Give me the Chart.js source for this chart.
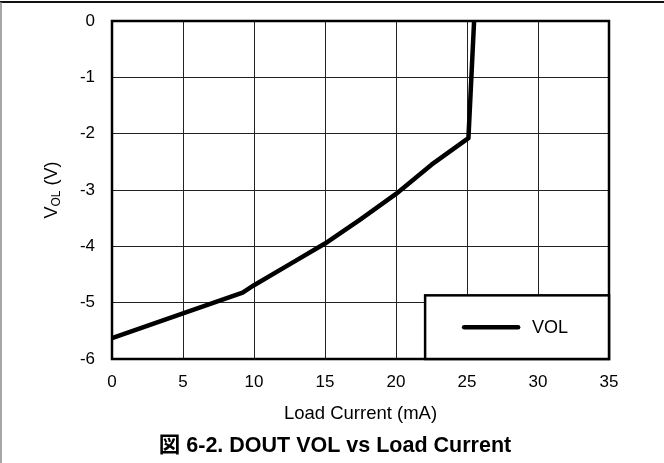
<!DOCTYPE html>
<html>
<head>
<meta charset="utf-8">
<script src="https://cdn.jsdelivr.net/npm/chart.js@4/dist/chart.umd.min.js"></script>
<style>
  html, body { margin: 0; padding: 0; background: #fff; }
  #wrap { position: relative; width: 664px; height: 463px; }
</style>
</head>
<body>
<div id="wrap"><canvas id="voltChart" width="664" height="463"></canvas></div>
<script>
// DOUT VOL vs load current
const loadCurrent = [0, 5, 9.2, 10, 12.5, 15, 17.5, 20, 22.5, 25.1, 25.5];
const volValues = [-5.63, -5.19, -4.82, -4.69, -4.32, -3.95, -3.52, -3.07, -2.55, -2.08, 0];
const seriesLabel = "VOL";
const xTitle = "Load Current (mA)";
const chartTitle = "図 6-2. DOUT VOL vs Load Current";

const FONT = "'Liberation Sans', Arial, 'Noto Sans CJK JP', sans-serif";

// outer frame (top + left edge of the page figure)
const framePlugin = {
  id: "frame",
  beforeDraw(chart) {
    const ctx = chart.ctx;
    ctx.save();
    ctx.fillStyle = "#fff";
    ctx.fillRect(0, 0, chart.width, chart.height);
    ctx.strokeStyle = "#111";
    ctx.lineWidth = 2;
    ctx.beginPath();
    ctx.moveTo(0, 2);
    ctx.lineTo(chart.width, 2);
    ctx.stroke();
    ctx.strokeStyle = "#888";
    ctx.lineWidth = 1.5;
    ctx.beginPath();
    ctx.moveTo(1, 2);
    ctx.lineTo(1, chart.height);
    ctx.stroke();
    ctx.restore();
  }
};

// plot border, boxed legend, axis titles and caption
const boxPlugin = {
  id: "box",
  afterDatasetsDraw(chart) {
    const { ctx, chartArea: a, scales: { x, y } } = chart;
    ctx.save();
    ctx.strokeStyle = "#000";
    ctx.lineWidth = 2.5;
    ctx.strokeRect(a.left, a.top, a.right - a.left, a.bottom - a.top);

    // legend box
    const lx = x.getPixelForValue(22.05);
    const ly = y.getPixelForValue(-4.87);
    ctx.fillStyle = "#fff";
    ctx.fillRect(lx, ly, a.right - lx, a.bottom - ly);
    ctx.strokeRect(lx, ly, a.right - lx, a.bottom - ly);
    const midY = (ly + a.bottom) / 2;
    ctx.lineWidth = 4.5;
    ctx.lineCap = "round";
    ctx.beginPath();
    ctx.moveTo(lx + 39, midY);
    ctx.lineTo(lx + 93, midY);
    ctx.stroke();
    ctx.fillStyle = "#000";
    ctx.font = "18px " + FONT;
    ctx.textBaseline = "middle";
    ctx.fillText(seriesLabel, lx + 107, midY + 1);

    // x title + caption
    ctx.textBaseline = "alphabetic";
    ctx.textAlign = "center";
    ctx.font = "18.5px " + FONT;
    ctx.fillText(xTitle, (a.left + a.right) / 2, 419);
    ctx.font = "bold 21.5px " + FONT;
    ctx.fillText(chartTitle, 335, 452);
    ctx.textAlign = "left";

    // y axis title V_OL (V)
    ctx.translate(50, (a.top + a.bottom) / 2);
    ctx.rotate(-Math.PI / 2);
    const big = "18px " + FONT, small = "12px " + FONT;
    ctx.font = big;
    const wV = ctx.measureText("V").width;
    const wR = ctx.measureText(" (V)").width;
    ctx.font = small;
    const wS = ctx.measureText("OL").width;
    let px = -(wV + wS + wR) / 2;
    ctx.font = big;
    ctx.fillText("V", px, 7);
    px += wV;
    ctx.font = small;
    ctx.fillText("OL", px, 10);
    px += wS;
    ctx.font = big;
    ctx.fillText(" (V)", px, 7);
    ctx.restore();
  }
};

const ctx = document.getElementById("voltChart").getContext("2d");
new Chart(ctx, {
  type: "line",
  data: {
    datasets: [{
      label: seriesLabel,
      data: loadCurrent.map((v, i) => ({ x: v, y: volValues[i] })),
      borderColor: "#000",
      borderWidth: 4.5,
      borderJoinStyle: "round",
      pointRadius: 0,
      tension: 0,
      fill: false
    }]
  },
  options: {
    responsive: false,
    animation: false,
    layout: { padding: { top: 21, right: 55, left: 0, bottom: 0 } },
    plugins: {
      legend: { display: false },
      tooltip: { enabled: false },
      title: { display: false }
    },
    scales: {
      x: {
        type: "linear",
        min: 0, max: 35,
        ticks: { stepSize: 5, color: "#000", padding: 13, font: { family: FONT, size: 17 } },
        grid: { color: "#222", lineWidth: 1, drawTicks: false },
        border: { display: false },
        afterFit(scale) { scale.height = 104; scale.paddingLeft = 0; scale.paddingRight = 0; }
      },
      y: {
        min: -6, max: 0,
        ticks: { stepSize: 1, color: "#000", padding: 17, font: { family: FONT, size: 17 } },
        grid: { color: "#222", lineWidth: 1, drawTicks: false },
        border: { display: false },
        afterFit(scale) { scale.width = 112; scale.paddingTop = 0; scale.paddingBottom = 0; }
      }
    }
  },
  plugins: [framePlugin, boxPlugin]
});
</script>
</body>
</html>
